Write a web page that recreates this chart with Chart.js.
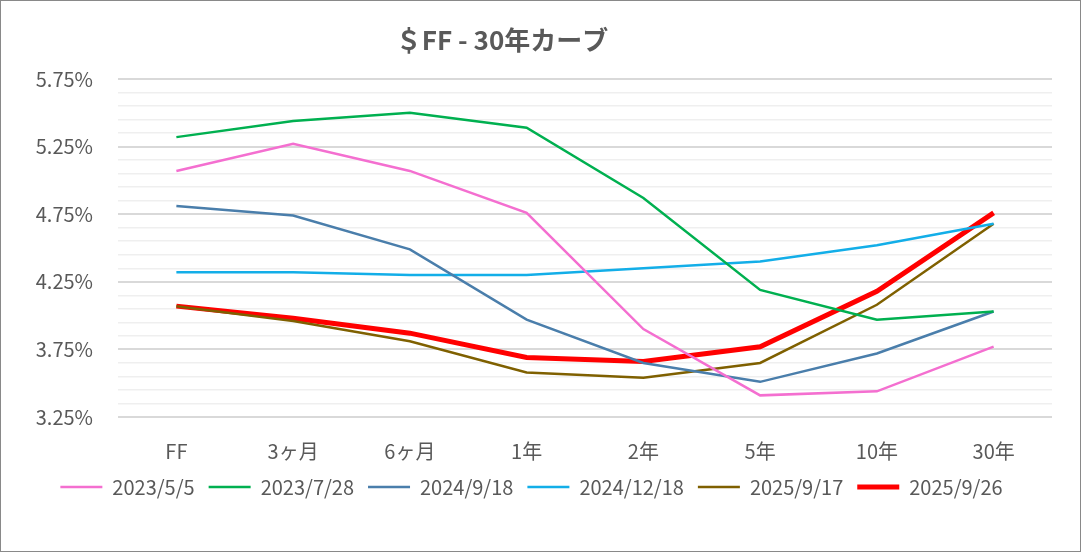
<!DOCTYPE html>
<html>
<head>
<meta charset="utf-8">
<script src="https://cdn.jsdelivr.net/npm/chart.js@4.4.1/dist/chart.umd.min.js"></script>
<style>
  html, body { margin: 0; padding: 0; background: #fff; }
  #wrap { width: 1081px; height: 552px; box-sizing: border-box; border: 1px solid #898989; }
  canvas { display: block; }
</style>
</head>
<body>
<div id="wrap"><canvas id="chart"></canvas></div>
<script>
const TITLE = "＄FF - 30年カーブ";

const tenors = ["FF", "3ヶ月", "6ヶ月", "1年", "2年", "5年", "10年", "30年"];

// yields in %
const curve20230505 = [5.07, 5.27, 5.07, 4.76, 3.90, 3.41, 3.44, 3.77];
const curve20230728 = [5.32, 5.44, 5.50, 5.39, 4.87, 4.19, 3.97, 4.03];
const curve20240918 = [4.81, 4.74, 4.49, 3.97, 3.65, 3.51, 3.72, 4.03];
const curve20241218 = [4.32, 4.32, 4.30, 4.30, 4.35, 4.40, 4.52, 4.68];
const curve20250917 = [4.07, 3.96, 3.81, 3.58, 3.54, 3.65, 4.08, 4.68];
const curve20250926 = [4.07, 3.98, 3.87, 3.69, 3.66, 3.77, 4.18, 4.76];

const seriesNames = ["2023/5/5", "2023/7/28", "2024/9/18", "2024/12/18", "2025/9/17", "2025/9/26"];

// labelled ticks, minor grid every 0.1%
const yLabelTicks = [3.25, 3.75, 4.25, 4.75, 5.25, 5.75];
const yMinorStep = 0.1;

const TEXT = "#595959";
const FONT = "'Noto Sans CJK JP', 'Noto Sans', sans-serif";

const isLabelled = (v) => yLabelTicks.some((t) => Math.abs(t - v) < 1e-6);

const line = (label, data, color, width) => ({
  label,
  data,
  borderColor: color,
  backgroundColor: color,
  borderWidth: width,
  pointRadius: 0,
  pointHoverRadius: 0,
  pointStyle: "line",
  tension: 0,
  fill: false,
});

// title is not centred on the canvas in the original, so draw it by hand
const titlePlugin = {
  id: "offsetTitle",
  afterDraw(chart) {
    const { ctx } = chart;
    ctx.save();
    ctx.font = `bold 26px ${FONT}`;
    ctx.fillStyle = TEXT;
    ctx.textAlign = "center";
    ctx.textBaseline = "middle";
    ctx.fillText(TITLE, 501, 39);
    ctx.restore();
  },
};

// eslint-disable-next-line no-unused-vars
const chart = new Chart(document.getElementById("chart").getContext("2d"), {
  type: "line",
  data: {
    labels: tenors,
    datasets: [
      line(seriesNames[0], curve20230505, "#f46fd0", 2.5),
      line(seriesNames[1], curve20230728, "#00b050", 2.5),
      line(seriesNames[2], curve20240918, "#4a7eab", 2.5),
      line(seriesNames[3], curve20241218, "#13aee8", 2.5),
      line(seriesNames[4], curve20250917, "#7f6000", 2.5),
      line(seriesNames[5], curve20250926, "#ff0000", 5),
    ],
  },
  options: {
    responsive: true,
    maintainAspectRatio: false,
    animation: false,
    layout: { padding: { top: 78, right: 28, bottom: 44, left: 10 } },
    plugins: {
      title: { display: false },
      tooltip: { enabled: false },
      legend: {
        position: "bottom",
        labels: {
          usePointStyle: true,
          pointStyleWidth: 42,
          padding: 14,
          color: TEXT,
          font: { family: FONT, size: 20 },
        },
      },
    },
    scales: {
      x: {
        offset: true,
        grid: { display: false },
        border: { display: false },
        afterFit(scale) {
          scale.height = 46;
        },
        ticks: {
          color: TEXT,
          padding: 14,
          maxRotation: 0,
          font: { family: FONT, size: 20 },
        },
      },
      y: {
        min: yLabelTicks[0],
        max: yLabelTicks[yLabelTicks.length - 1],
        afterFit(scale) {
          scale.width = 107;
        },
        afterBuildTicks(scale) {
          const ticks = [];
          const lo = yLabelTicks[0];
          const hi = yLabelTicks[yLabelTicks.length - 1];
          for (let v = lo; v <= hi + 1e-6; v += yMinorStep) {
            ticks.push({ value: Math.round(v * 100) / 100 });
          }
          scale.ticks = ticks;
        },
        border: { display: false },
        grid: {
          drawTicks: false,
          color: (ctx) => (isLabelled(ctx.tick.value) ? "#d9d9d9" : "#efefef"),
          lineWidth: (ctx) => (isLabelled(ctx.tick.value) ? 2 : 1.5),
        },
        ticks: {
          autoSkip: false,
          color: TEXT,
          padding: 25,
          font: { family: FONT, size: 20 },
          callback: (v) => (isLabelled(v) ? `${v.toFixed(2)}%` : ""),
        },
      },
    },
  },
  plugins: [titlePlugin],
});
</script>
</body>
</html>
